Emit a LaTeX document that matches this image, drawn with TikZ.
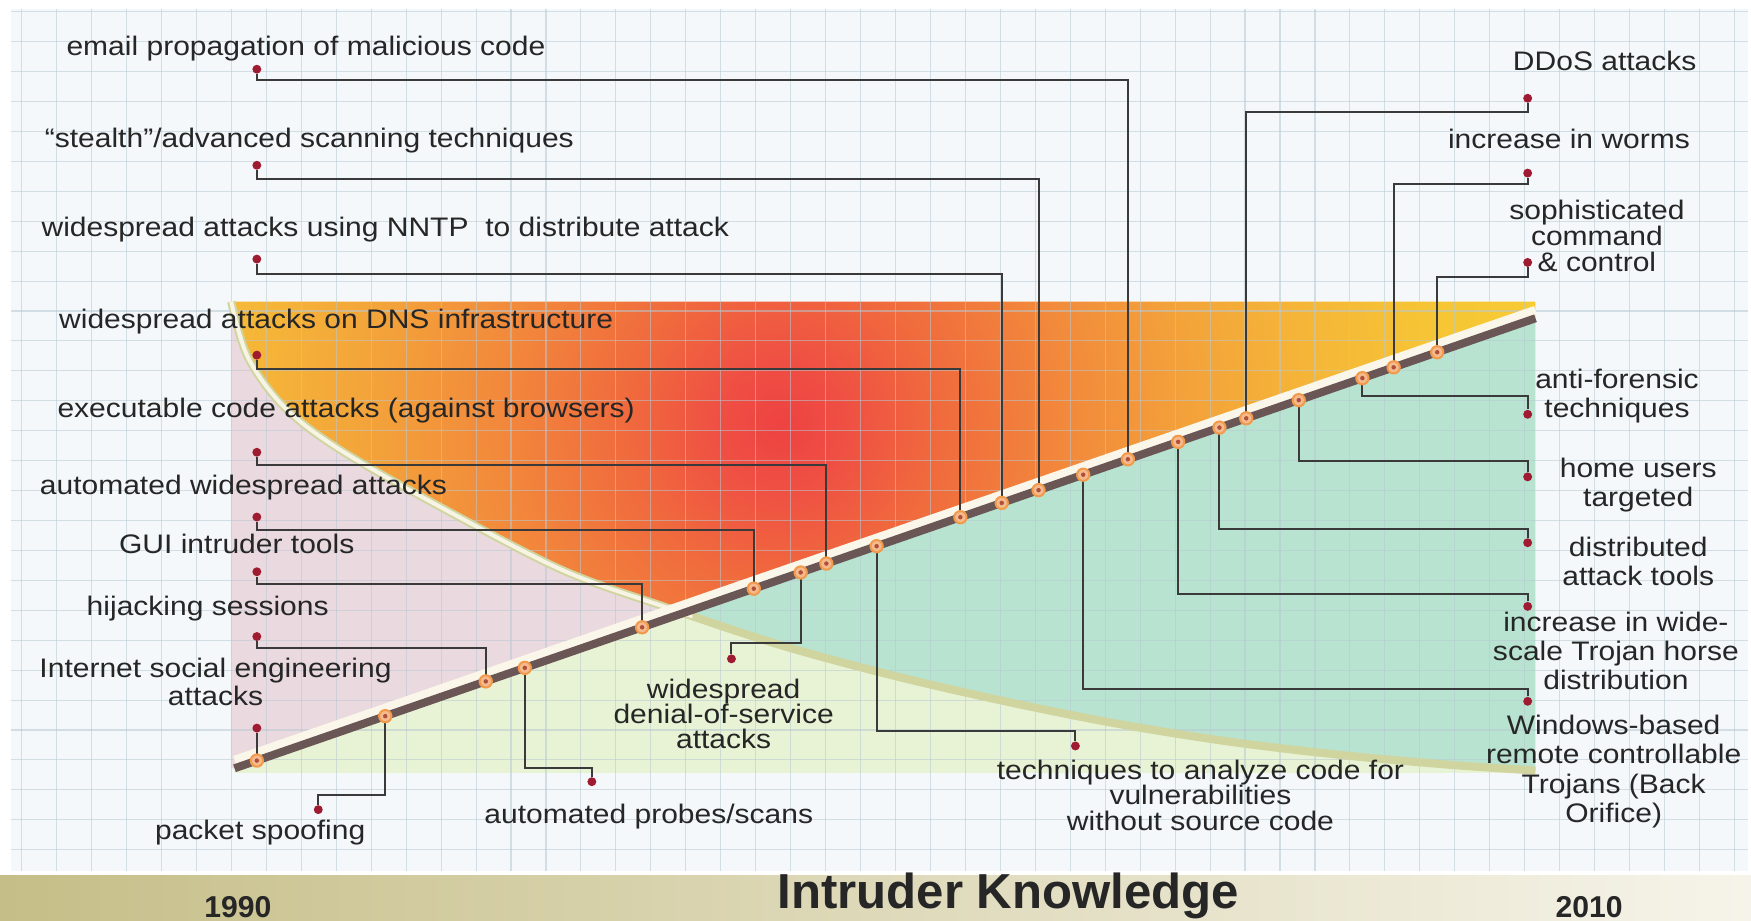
\documentclass[tikz,border=0pt]{standalone}
\usepackage{fontspec}
\setmainfont{Liberation Sans}
\newfontfamily\labelfont[FakeStretch=1.12]{Liberation Sans}
\usepackage{xcolor}
\definecolor{gridbg}{HTML}{F4F8FA}
\definecolor{gridline}{HTML}{B9C8D2}
\definecolor{pinkzone}{HTML}{EAD9DE}
\definecolor{palezone}{HTML}{E7F3D4}
\definecolor{tealzone}{HTML}{B8E3D1}
\definecolor{heat0}{HTML}{EE4242}
\definecolor{heat1}{HTML}{EF4F43}
\definecolor{heat2}{HTML}{F06A3D}
\definecolor{heat3}{HTML}{F2883B}
\definecolor{heat4}{HTML}{F3A23A}
\definecolor{heat5}{HTML}{F5B638}
\definecolor{heat6}{HTML}{F6C535}
\definecolor{heat7}{HTML}{F7CC33}
\definecolor{trackbrown}{HTML}{6B5656}
\definecolor{trackhalo}{HTML}{FBF6EA}
\definecolor{curveolive}{HTML}{D0D59F}
\definecolor{curvecream}{HTML}{F7F4E6}
\definecolor{wiregray}{HTML}{3A3A3A}
\definecolor{pinred}{HTML}{9E1B32}
\definecolor{knotring}{HTML}{F29A4A}
\definecolor{knotfill}{HTML}{F5B98E}
\definecolor{knotcore}{HTML}{B0503A}
\definecolor{inkgray}{HTML}{262626}
\definecolor{bandleft}{HTML}{C6BE88}
\definecolor{bandright}{HTML}{F6F4EA}
\usepackage{tikz}
\pgfdeclareradialshading{heatmap}{\pgfpoint{0bp}{0bp}}{color(0bp)=(heat0); color(2bp)=(heat1); color(5bp)=(heat2); color(9bp)=(heat3); color(13bp)=(heat4); color(17bp)=(heat5); color(21bp)=(heat6); color(25bp)=(heat7); color(50bp)=(heat7)}

\begin{document}
\begin{tikzpicture}[x=0.5pt, y=-0.5pt,
        lbl/.style={font=\labelfont\fontsize{12}{13}\selectfont, text=inkgray, inner sep=0pt, align=center},
        oneline/.style={lbl, text height=8.5pt, text depth=2.5pt},
        year/.style={font=\bfseries\fontsize{13.5}{14}\selectfont, text=inkgray, inner sep=0pt},
        pin/.style={circle, fill=pinred, inner sep=0pt, minimum size=4pt},
        knot/.style={circle, draw=knotring, fill=knotfill, line width=0.9pt, inner sep=0pt, minimum size=5.5pt,
            path picture={\fill[knotcore] (path picture bounding box.center) circle (1pt);}},
        wire/.style={draw=wiregray, line width=0.9pt}
    ]

        \def\curve{plot[smooth, tension=0.55] coordinates {(207,270) (222,320) (255,365) (308,405) (411,463) (507,512) (600,545) (700,578) (800,605) (900,628) (1000,648) (1100,664) (1200,676) (1300,685) (1375,690)}}

        % Page and grid paper
        \useasboundingbox (0,0) rectangle (1568,824);
        \fill[white] (0,0) rectangle (1568,824);
        \fill[gridbg] (10,8) rectangle (1565,780);

        % Zones
        \begin{scope}
            \clip (207,270) -- (1375,270) -- (1375,285) -- (210,688) -- (207,688) -- cycle;
            \clip \curve -- (1380,690) -- (1380,260) -- (207,260) -- cycle;
            \shade[shading=heatmap] (700,380) circle[radius=700];
        \end{scope}
        \begin{scope}
            \clip (207,270) -- (1375,270) -- (1375,285) -- (210,688) -- (207,688) -- cycle;
            \clip \curve -- (1375,700) -- (200,700) -- (200,270) -- cycle;
            \fill[pinkzone] (200,260) rectangle (1380,700);
        \end{scope}
        \begin{scope}
            \clip (210,688) -- (1375,285) -- (1375,692) -- (210,692) -- cycle;
            \clip \curve -- (1380,690) -- (1380,260) -- (207,260) -- cycle;
            \fill[tealzone] (200,260) rectangle (1380,700);
        \end{scope}
        \begin{scope}
            \clip (210,688) -- (1375,285) -- (1375,692) -- (210,692) -- cycle;
            \clip \curve -- (1375,700) -- (200,700) -- (200,270) -- cycle;
            \fill[palezone] (200,260) rectangle (1380,700);
        \end{scope}

        % Grid lines
        \foreach \gx in {0,...,49}
            \draw[gridline, line width=0.5pt, opacity=0.55] ({19.4+31.3*\gx},8) -- ({19.4+31.3*\gx},780);
        \foreach \gy in {0,...,28}
            \draw[gridline, line width=0.5pt, opacity=0.55] (10,{10.5+26.8*\gy}) -- (1565,{10.5+26.8*\gy});

        % Curve band
        \draw[curveolive, line width=3.6pt] \curve;
        \begin{scope}
            \clip (200,260) rectangle (620,600);
            \draw[curvecream, line width=1.8pt] \curve;
        \end{scope}

        % Time line
        \coordinate (d0) at (210,688);
        \coordinate (d1) at (1375,285);
        \draw[trackhalo, line width=4pt] ([yshift=3.6pt]d0) -- ([yshift=3.6pt]d1);

        % Knots on the time line
        \foreach \kx [count=\i] in {230,345,435,470,575,675,717,740,785,860,897,930,970,1010,1055,1092,1116,1163,1220,1248,1287}
            \coordinate (k\i) at (\kx,{688-(\kx-210)*0.34592});

        % Left labels
        \node[oneline] (email) at (274,44) {email propagation of malicious code};
        \node[oneline] (stealth) at (277,126) {“stealth”/advanced scanning techniques};
        \node[oneline] (nntp) at (345,206) {widespread attacks using NNTP\ \ to distribute attack};
        \node[oneline] (dns) at (301,288) {widespread attacks on DNS infrastructure};
        \node[oneline] (exec) at (310,368) {executable code attacks (against browsers)};
        \node[oneline] (autoatk) at (218,437) {automated widespread attacks};
        \node[oneline] (gui) at (212,490) {GUI intruder tools};
        \node[oneline] (hijack) at (186,545) {hijacking sessions};
        \node[lbl, font=\labelfont\fontsize{12}{12.5}\selectfont] (social) at (193,611) {Internet social engineering\\attacks};

        % Bottom labels
        \node[oneline] (spoof) at (233,746) {packet spoofing};
        \node[oneline] (probes) at (581,731) {automated probes/scans};
        \node[lbl, font=\labelfont\fontsize{12}{11.2}\selectfont] (dos) at (648,639) {widespread\\denial-of-service\\attacks};
        \node[lbl, font=\labelfont\fontsize{12}{11.5}\selectfont] (analyze) at (1075,712) {techniques to analyze code for\\vulnerabilities\\without source code};

        % Right labels
        \node[oneline] (ddos) at (1437,57) {DDoS attacks};
        \node[oneline] (worms) at (1405,127) {increase in worms};
        \node[lbl, font=\labelfont\fontsize{12}{11.6}\selectfont] (cnc) at (1430,211) {sophisticated\\command\\\& control};
        \node[lbl] (forensic) at (1448,355) {anti-forensic\\techniques};
        \node[lbl] (home) at (1467,434) {home users\\targeted};
        \node[lbl] (distrib) at (1467,503) {distributed\\attack tools};
        \node[lbl] (trojan) at (1447,583) {increase in wide-\\scale Trojan horse\\distribution};
        \node[lbl, font=\labelfont\fontsize{12}{13.2}\selectfont] (windows) at (1445,691) {Windows-based\\remote controllable\\Trojans (Back\\Orifice)};

        % Pins
        \node[pin] (emailpin) at (230,62) {};
        \node[pin] (stealthpin) at (230,148) {};
        \node[pin] (nntppin) at (230,232) {};
        \node[pin] (dnspin) at (230,318) {};
        \node[pin] (execpin) at (230,405) {};
        \node[pin] (autoatkpin) at (230,463) {};
        \node[pin] (guipin) at (230,512) {};
        \node[pin] (hijackpin) at (230,570) {};
        \node[pin] (socialpin) at (230,652) {};
        \node[pin] (spoofpin) at (285,725) {};
        \node[pin] (probespin) at (530,700) {};
        \node[pin] (dospin) at (655,590) {};
        \node[pin] (analyzepin) at (963,668) {};
        \node[pin] (ddospin) at (1368,88) {};
        \node[pin] (wormspin) at (1368,155) {};
        \node[pin] (cncpin) at (1368,235) {};
        \node[pin] (forensicpin) at (1368,371) {};
        \node[pin] (homepin) at (1368,427) {};
        \node[pin] (distribpin) at (1368,486) {};
        \node[pin] (trojanpin) at (1368,543) {};
        \node[pin] (windowspin) at (1368,628) {};

        % Wires
        \draw[wire] (emailpin) -- ++(0,10) -| (k14);
        \draw[wire] (stealthpin) -- ++(0,12) -| (k12);
        \draw[wire] (nntppin) -- ++(0,13) -| (k11);
        \draw[wire] (dnspin) -- ++(0,12) -| (k10);
        \draw[wire] (execpin) -- ++(0,11) -| (k8);
        \draw[wire] (autoatkpin) -- ++(0,12) -| (k6);
        \draw[wire] (guipin) -- ++(0,11) -| (k5);
        \draw[wire] (hijackpin) -- ++(0,10) -| (k3);
        \draw[wire] (socialpin) -- (k1);
        \draw[wire] (spoofpin) -- ++(0,-13) -| (k2);
        \draw[wire] (probespin) -- ++(0,-12) -| (k4);
        \draw[wire] (dospin) -- ++(0,-14) -| (k7);
        \draw[wire] (analyzepin) -- ++(0,-13) -| (k9);
        \draw[wire] (ddospin) -- ++(0,12) -| (k17);
        \draw[wire] (wormspin) -- ++(0,10) -| (k20);
        \draw[wire] (cncpin) -- ++(0,13) -| (k21);
        \draw[wire] (forensicpin) -- ++(0,-16) -| (k19);
        \draw[wire] (homepin) -- ++(0,-14) -| (k18);
        \draw[wire] (distribpin) -- ++(0,-12) -| (k16);
        \draw[wire] (trojanpin) -- ++(0,-11) -| (k15);
        \draw[wire] (windowspin) -- ++(0,-11) -| (k13);

        % Time line on top of the wires
        \draw[trackbrown, line width=3.6pt] (d0) -- (d1);
        \foreach \i in {1,...,21}
            \node[knot] at (k\i) {};

        % Bottom band
        \shade[left color=bandleft, right color=bandright] (0,784) rectangle (1568,824);
        \node[year] (start) at (213,812) {1990};
        \node[font=\bfseries\fontsize{22}{24}\selectfont, text=inkgray, inner sep=0pt] (axis) at (903,802) {Intruder Knowledge};
        \node[year] (stop) at (1423,812) {2010};

    \end{tikzpicture}
\end{document}
